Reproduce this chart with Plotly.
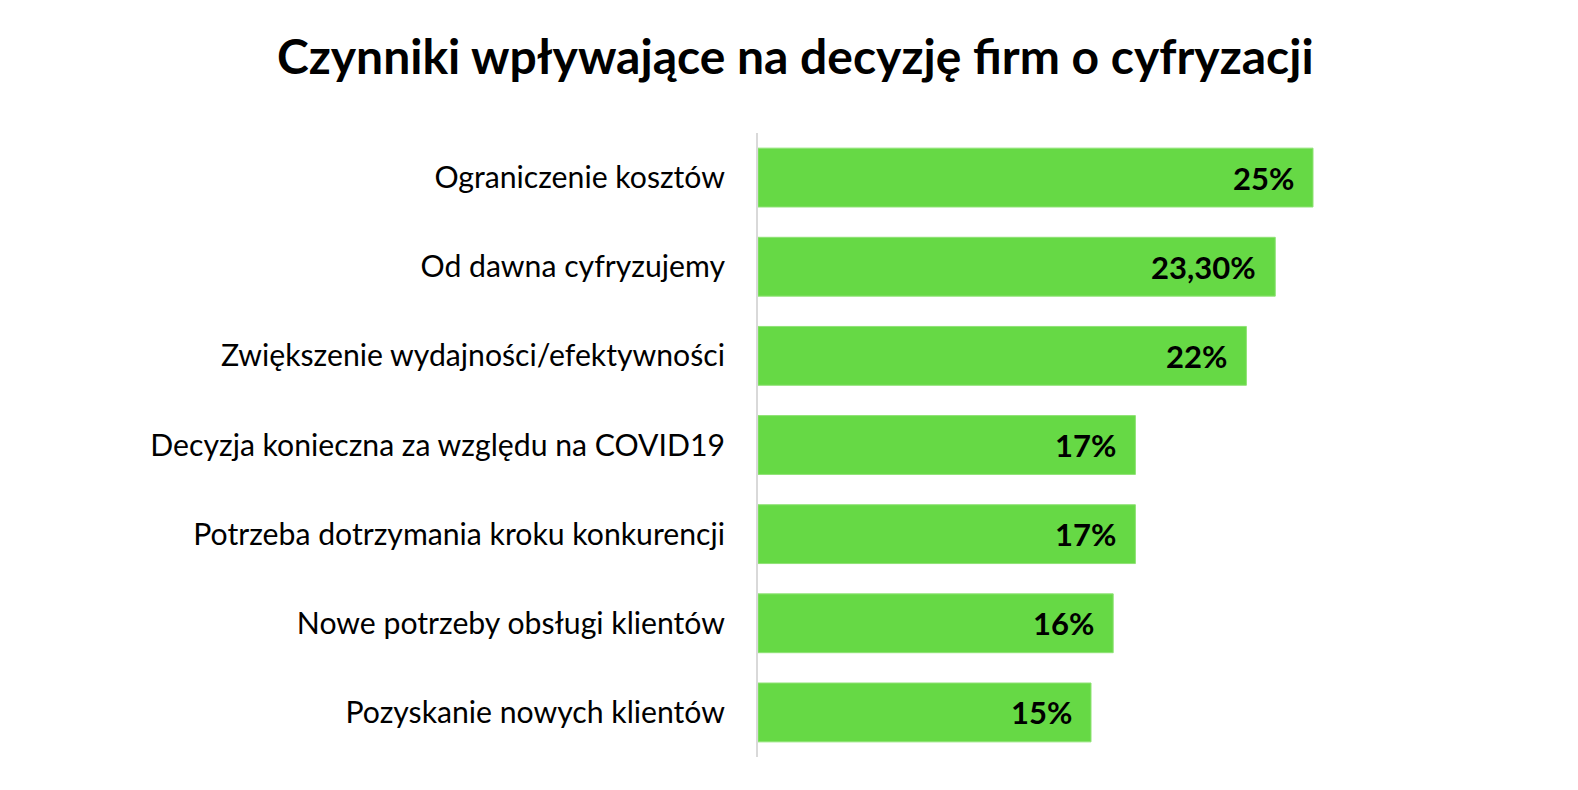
import plotly.graph_objects as go

categories = [
    "Ograniczenie kosztów",
    "Od dawna cyfryzujemy",
    "Zwiększenie wydajności/efektywności",
    "Decyzja konieczna za względu na COVID19",
    "Potrzeba dotrzymania kroku konkurencji",
    "Nowe potrzeby obsługi klientów",
    "Pozyskanie nowych klientów",
]
values = [0.25, 0.233, 0.22, 0.17, 0.17, 0.16, 0.15]
value_labels = ["25%", "23,30%", "22%", "17%", "17%", "16%", "15%"]
title = "Czynniki wpływające na decyzję firm o cyfryzacji"

FONT = "Lato"
GREEN = "#66D945"

fig = go.Figure(
    go.Bar(
        y=categories,
        x=values,
        orientation="h",
        marker=dict(color=GREEN, line=dict(color="#8FE275", width=1)),
        hoverinfo="skip",
    )
)

for c, v, t in zip(categories, values, value_labels):
    fig.add_annotation(
        x=v, y=c, text=f"<b>{t}</b>", showarrow=False,
        xanchor="right", xshift=-17,
        font=dict(family=FONT, size=31, color="#000000"),
    )

fig.update_layout(
    width=1578, height=790,
    margin=dict(l=758, r=154, t=133, b=33),
    paper_bgcolor="white", plot_bgcolor="white",
    title=dict(text=f"<b>{title}</b>", x=0.504, xanchor="center", y=0.927, yanchor="middle",
               font=dict(family=FONT, size=48, color="#000000")),
    bargap=0.34,
    showlegend=False,
)
fig.update_xaxes(range=[0, 0.30], visible=False, showgrid=False, zeroline=False)
fig.update_yaxes(
    autorange="reversed", showgrid=False, zeroline=False,
    showline=True, linecolor="#D9D9D9", linewidth=2,
    ticks="", ticklabelstandoff=25,
    tickfont=dict(family=FONT, size=30.2, color="#000000"),
)

fig.write_html("out.html")
